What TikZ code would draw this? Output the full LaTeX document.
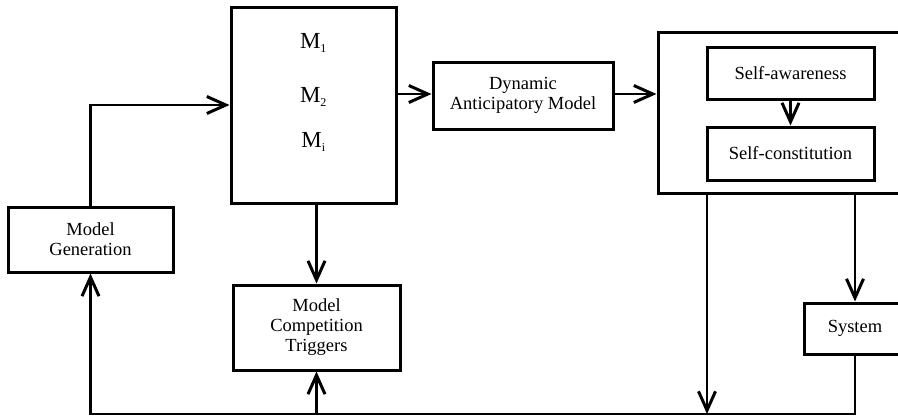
\documentclass[tikz,border=0pt]{standalone}
\usepackage{fontspec}
\setmainfont{Liberation Serif}
\usetikzlibrary{arrows.meta}
\begin{document}
\begin{tikzpicture}[x=1pt,y=-1pt,
  box/.style={draw=black,line width=3pt,fill=white,inner sep=0pt,align=center,
    font=\fontsize{18.5}{20}\selectfont},
  mlab/.style={font=\fontsize{23}{26}\selectfont},
  conn/.style={line width=2.6pt,-{Straight Barb[length=19pt,width=17pt,line width=3pt]}}]
\useasboundingbox[fill=white] (0,0) rectangle (898,418);
% boxes
\node[box,minimum width=165pt,minimum height=65pt] (gen) at (90.5,239.5) {Model\\Generation};
\node[box,minimum width=165pt,minimum height=196pt] (mbox) at (313.5,105) {};
\node[mlab] (m1) at (313.5,43) {M\textsubscript{\fontsize{12}{13}\selectfont 1}};
\node[mlab] (m2) at (313.5,97) {M\textsubscript{\fontsize{12}{13}\selectfont 2}};
\node[mlab] (mi) at (313.5,142) {M\textsubscript{\fontsize{12}{13}\selectfont i}};
\node[box,minimum width=180pt,minimum height=67pt] (dyn) at (523,95.5) {Dynamic\\Anticipatory Model};
\node[box,minimum width=280pt,minimum height=161pt] (big) at (798,112.5) {};
\node[box,minimum width=167pt,minimum height=52pt] (sa) at (790.5,73) {Self-awareness};
\node[box,minimum width=167pt,minimum height=53pt] (sc) at (790.5,153.5) {Self-constitution};
\node[box,minimum width=102pt,minimum height=51pt] (sys) at (855,328.5) {System};
\node[box,minimum width=167pt,minimum height=85pt] (mct) at (316.5,327.5) {Model\\Competition\\Triggers};
\coordinate (bot) at (0,414);
\coordinate (bl) at (707,193);
% connectors
\draw[conn] (gen.north) |- (mbox.west);
\draw[conn] (mbox.east |- 0,94) -- (dyn.west |- 0,94);
\draw[conn] (dyn.east |- 0,94) -- (big.west |- 0,94);
\draw[conn] (sa.south) -- (sc.north);
\draw[conn] (mct.north |- mbox.south) -- (mct.north);
\draw[conn] (sys.north |- big.south) -- (sys.north);
\draw[conn] (bl) -- (bl |- bot);
\draw[conn] (sys.south) -- (sys.south |- bot) -| (gen.south);
\draw[conn] (mct.south |- bot) -- (mct.south);
\end{tikzpicture}
\end{document}
